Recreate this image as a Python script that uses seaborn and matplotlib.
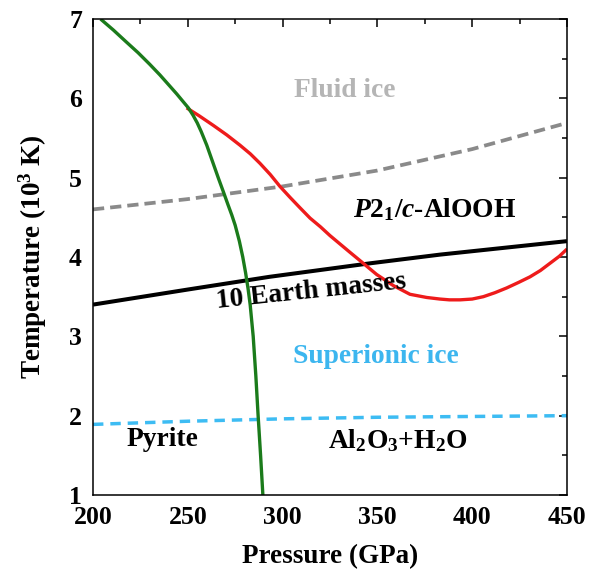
import numpy as np
import pandas as pd
import matplotlib
matplotlib.use("Agg")
import matplotlib.pyplot as plt
import seaborn as sns

# ---- data ----
green_p = [204.0, 210.8, 217.6, 223.8, 229.9, 235.3, 240.5, 244.2, 247.5, 250.3, 252.7, 255.0,
           257.1, 260.0, 263.1, 266.2, 268.8, 271.2, 273.2, 275.0, 277.2, 279.0, 280.5, 281.8,
           282.9, 284.5, 285.9, 287.1, 288.4, 289.7]
green_t = [7.00, 6.86, 6.71, 6.575, 6.43, 6.295, 6.155, 6.055, 5.96, 5.88, 5.79, 5.69,
           5.58, 5.41, 5.20, 4.99, 4.82, 4.66, 4.53, 4.40, 4.20, 4.00, 3.80, 3.60,
           3.40, 3.00, 2.50, 2.00, 1.50, 0.96]

red_p = [249.4, 256.0, 263.4, 270.5, 277.5, 283.0, 288.1, 293.5, 298.6, 304.0, 309.2, 314.5,
         320.0, 325.0, 330.0, 335.5, 342.6, 349.6, 358.4, 367.2, 376.0, 383.0, 388.0, 393.6,
         400.0, 405.9, 412.0, 418.2, 424.5, 430.5, 436.0, 441.0, 446.0, 450.0]
red_t = [5.88, 5.78, 5.66, 5.54, 5.41, 5.30, 5.18, 5.04, 4.89, 4.75, 4.62, 4.49,
         4.38, 4.27, 4.17, 4.06, 3.92, 3.78, 3.64, 3.53, 3.49, 3.47, 3.46, 3.46,
         3.47, 3.50, 3.55, 3.61, 3.68, 3.75, 3.83, 3.92, 4.01, 4.10]

fluid_p = [200, 250, 300, 350, 400, 450]
fluid_t = [4.60, 4.73, 4.89, 5.09, 5.36, 5.69]

earth_p = [200, 250, 293, 346, 383, 450]
earth_t = [3.40, 3.59, 3.75, 3.92, 4.03, 4.20]

super_p = [200, 250, 300, 350, 400, 450]
super_t = [1.89, 1.93, 1.96, 1.98, 1.99, 2.00]

x_ticks = [200, 250, 300, 350, 400, 450]
y_ticks = [1, 2, 3, 4, 5, 6, 7]

# ---- style ----
sns.set_style("white")
plt.rcParams["font.family"] = ["Liberation Serif", "DejaVu Serif"]
plt.rcParams["font.weight"] = "bold"
plt.rcParams["text.color"] = "black"
plt.rcParams["axes.labelcolor"] = "black"
plt.rcParams["xtick.color"] = "black"
plt.rcParams["ytick.color"] = "black"
plt.rcParams["mathtext.fontset"] = "custom"
plt.rcParams["mathtext.rm"] = "Liberation Serif:bold"
plt.rcParams["mathtext.it"] = "Liberation Serif:italic:bold"
plt.rcParams["mathtext.bf"] = "Liberation Serif:bold"

fig = plt.figure(figsize=(5.98, 5.71), dpi=100)
ax = fig.add_axes([0.1555, 0.1331, 0.7926, 0.8336])

def draw(p, t, color, lw, dashes=None):
    df = pd.DataFrame({"P": p, "T": t})
    sns.lineplot(data=df, x="P", y="T", sort=False, estimator=None,
                 color=color, lw=lw, ax=ax)
    l = ax.get_lines()[-1]
    if dashes is not None:
        l.set_dashes(dashes)
    l.set_solid_capstyle("butt")
    l.set_dash_capstyle("butt")
    l.set_solid_joinstyle("round")

draw(fluid_p, fluid_t, "#8a8a8a", 2.7, (3.0, 1.6))
draw(super_p, super_t, "#3dbcf3", 2.5, (3.0, 2.0))
draw(earth_p, earth_t, "black", 2.9)
draw(red_p, red_t, "#ee1b1b", 2.4)
draw(green_p, green_t, "#1b7b1b", 2.4)

ax.set_xlim(200, 450)
ax.set_ylim(1, 7)
ax.set_xticks(x_ticks)
ax.set_yticks(y_ticks)
ax.set_xticks(np.arange(225, 450, 50), minor=True)
ax.set_yticks(np.arange(1.5, 7, 1.0), minor=True)
ax.set_xticklabels([str(v) for v in x_ticks], fontsize=18.5, fontweight="bold")
ax.set_yticklabels([str(v) for v in y_ticks], fontsize=18.5, fontweight="bold")
ax.tick_params(which="both", direction="in", top=True, right=True, width=1.1, color="black")
ax.tick_params(which="major", length=6, pad=8)
ax.tick_params(which="minor", length=3.5)
for s in ax.spines.values():
    s.set_visible(True)
    s.set_color("black")
    s.set_linewidth(1.1)

ax.set_xlabel("Pressure (GPa)", fontsize=19.5, fontweight="bold", labelpad=11)
ax.set_ylabel("Temperature (10$^{3}$ K)", fontsize=19.5, fontweight="bold", labelpad=14)

fs = 19.8
ax.text(333, 6.10, "Fluid ice", color="#b5b5b5", fontsize=fs, fontweight="bold", ha="center", va="center")
ax.text(380, 4.60, "$P$2$_{1}$/$c$-AlOOH", color="black", fontsize=fs, fontweight="bold", ha="center", va="center")
ax.text(315, 3.56, "10 Earth masses", color="black", fontsize=fs, fontweight="bold",
        ha="center", va="center", rotation=6, rotation_mode="anchor")
ax.text(349, 2.75, "Superionic ice", color="#3cb6ef", fontsize=fs, fontweight="bold", ha="center", va="center")
ax.text(236.7, 1.70, "Pyrite", color="black", fontsize=fs, fontweight="bold", ha="center", va="center")
ax.text(360.6, 1.68, "Al$_{2}$O$_{3}$+H$_{2}$O", color="black", fontsize=fs, fontweight="bold", ha="center", va="center")

fig.savefig("out.png", dpi=100)
